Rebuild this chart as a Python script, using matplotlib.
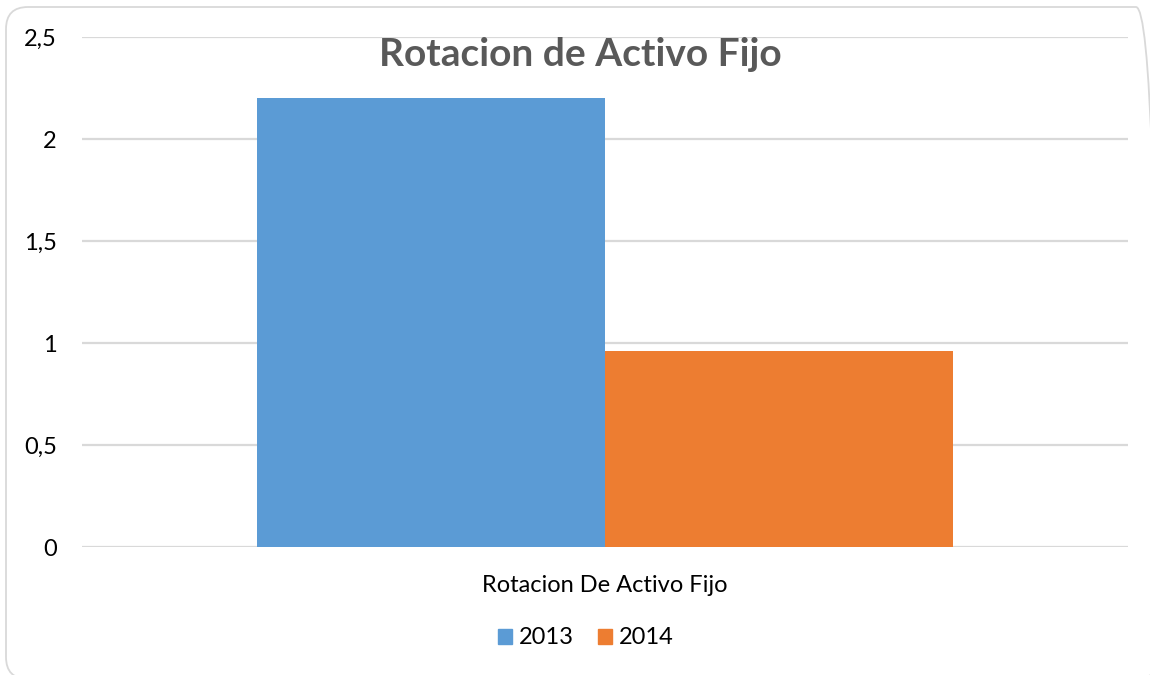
import matplotlib
matplotlib.use("Agg")
import matplotlib.pyplot as plt
from matplotlib.patches import FancyBboxPatch, Patch
from matplotlib.transforms import IdentityTransform
import numpy as np

categories = ["Rotacion De Activo Fijo"]
series_names = ["2013", "2014"]
values_2013 = [2.2]
values_2014 = [0.96]
colors = ["#5B9BD5", "#ED7D31"]
yticks = [0, 0.5, 1, 1.5, 2, 2.5]
ytick_labels = ["0", "0,5", "1", "1,5", "2", "2,5"]
title = "Rotacion de Activo Fijo"

plt.rcParams['font.family'] = ['Lato', 'DejaVu Sans']

fig = plt.figure(figsize=(11.5, 6.75), dpi=100)
ax = fig.add_axes([82/1150, 1-547/675, (1128-82)/1150, (547-37)/675])

x = np.arange(len(categories))
w = 0.333
ax.bar(x - w/2, values_2013, width=w, color=colors[0], label=series_names[0], zorder=3)
ax.bar(x + w/2, values_2014, width=w, color=colors[1], label=series_names[1], zorder=3)

ax.set_xlim(-0.5, 0.5)
ax.set_ylim(0, 2.5)
ax.set_yticks(yticks)
ax.set_yticklabels(ytick_labels, fontsize=17, color="#000000")
ax.set_xticks(x)
ax.set_xticklabels(categories, fontsize=17, color="#000000")
ax.tick_params(axis='y', length=0, pad=18)
ax.tick_params(axis='x', length=0, pad=20)
ax.grid(axis='y', color="#D9D9D9", linewidth=1.6, zorder=0)
for s in ax.spines.values():
    s.set_visible(False)

fig.text(580/1150, 1-55/675, title, fontsize=28, fontweight='bold', color="#595959",
         ha='center', va='center')

handles = [Patch(color=colors[0], label=series_names[0]), Patch(color=colors[1], label=series_names[1])]
fig.legend(handles=handles, loc='center', bbox_to_anchor=(586/1150, 1-638/675), ncol=2,
           frameon=False, fontsize=17, handlelength=0.6, handleheight=0.6,
           handletextpad=0.3, columnspacing=1.0)

border = FancyBboxPatch((6, -4), 1152, 672,
                        boxstyle="round,pad=0,rounding_size=22",
                        transform=IdentityTransform(), facecolor='none',
                        edgecolor="#D9D9D9", linewidth=1.3)
fig.patches.append(border)

fig.savefig("out.png", dpi=100)
